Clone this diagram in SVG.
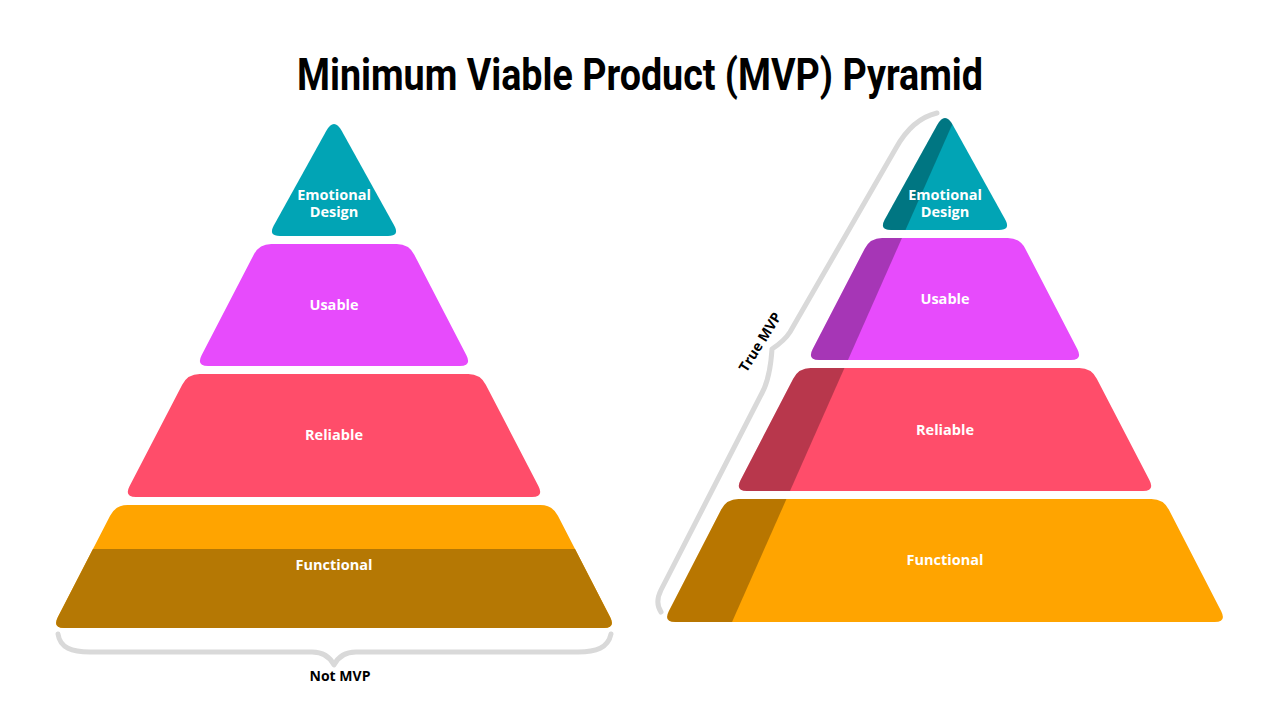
<svg xmlns="http://www.w3.org/2000/svg" width="1280" height="720" viewBox="0 0 1280 720">
<style>
.lbl{font-family:"Open Sans","Liberation Sans",sans-serif;font-weight:700;font-size:14.5px;fill:#fff;text-anchor:middle}
.cap{font-family:"Open Sans","Liberation Sans",sans-serif;font-weight:700;font-size:14px;fill:#000;text-anchor:middle}
.brace{fill:none;stroke:#D9D9D9;stroke-width:5;stroke-linecap:round;stroke-linejoin:round}
.dark{fill:#000;fill-opacity:0.28}
</style>
<defs>
<path id="tri" d="M326.2,131 Q334,117 341.8,131 L394.2,225.5 Q400,236 388,236 L280,236 Q268,236 273.8,225.5 Z"/>
<path id="use" d="M271.2,244 L396.8,244 Q408.8,244 414.3,254.7 L466.4,355.3 Q471.9,366 459.9,366 L208.1,366 Q196.1,366 201.6,355.3 L253.7,254.7 Q259.2,244 271.2,244 Z"/>
<path id="rel" d="M199.7,374 L468.3,374 Q480.3,374 485.8,384.7 L538.5,486.3 Q544,497 532,497 L136,497 Q124,497 129.5,486.3 L182.2,384.7 Q187.7,374 199.7,374 Z"/>
<path id="fun" d="M127.6,505 L540.4,505 Q552.4,505 557.9,515.7 L610.2,617.3 Q615.7,628 603.7,628 L64.3,628 Q52.3,628 57.8,617.3 L110.1,515.7 Q115.6,505 127.6,505 Z"/>
<clipPath id="funClip"><use href="#fun"/></clipPath>
<clipPath id="rightDark"><polygon points="0,100 354.7,100 111.3,650 0,650"/></clipPath>
</defs>
<rect width="1280" height="720" fill="#fff"/>
<text x="640" y="90" font-family="Roboto,'Liberation Sans',sans-serif" font-weight="700" font-size="45" text-anchor="middle" textLength="686" lengthAdjust="spacingAndGlyphs" fill="#000">Minimum Viable Product (MVP) Pyramid</text>

<g id="left-pyramid">
<g id="left-emotional"><use href="#tri" fill="#01A4B5"/><text class="lbl" x="334" y="200">Emotional</text><text class="lbl" x="334" y="217">Design</text></g>
<g id="left-usable"><use href="#use" fill="#E74BFC"/><text class="lbl" x="334" y="310">Usable</text></g>
<g id="left-reliable"><use href="#rel" fill="#FF4D6A"/><text class="lbl" x="334" y="440">Reliable</text></g>
<g id="left-functional"><use href="#fun" fill="#FFA400"/><rect x="40" y="549" width="600" height="90" fill="#B57804" clip-path="url(#funClip)"/><text class="lbl" x="334" y="570">Functional</text></g>
</g>

<g id="right-pyramid">
<g id="right-emotional"><g transform="translate(611,-6)"><use href="#tri" fill="#01A4B5"/><use href="#tri" class="dark" clip-path="url(#rightDark)"/></g><text class="lbl" x="945" y="200">Emotional</text><text class="lbl" x="945" y="217">Design</text></g>
<g id="right-usable"><g transform="translate(611,-6)"><use href="#use" fill="#E74BFC"/><use href="#use" class="dark" clip-path="url(#rightDark)"/></g><text class="lbl" x="945" y="304">Usable</text></g>
<g id="right-reliable"><g transform="translate(611,-6)"><use href="#rel" fill="#FF4D6A"/><use href="#rel" class="dark" clip-path="url(#rightDark)"/></g><text class="lbl" x="945" y="435">Reliable</text></g>
<g id="right-functional"><g transform="translate(611,-6)"><use href="#fun" fill="#FFA400"/><use href="#fun" class="dark" clip-path="url(#rightDark)"/></g><text class="lbl" x="945" y="565">Functional</text></g>
</g>

<g id="connectors">
<path class="brace" d="M58,634 C60,648 72,652 90,652 L312,652 C322,652 330,657 334,665 C338,657 346,652 356,652 L578,652 C596,652 608,648 611,634"/>
<path class="brace" d="M661,612 C657,606 657,598 661,590 L762,393 C769,380 771,365 772,349 C778,345 785,340 790,332 L896,148 C906,130 920,117 937,113"/>
</g>
<g id="labels">
<text class="cap" x="340" y="681">Not MVP</text>
<text class="cap" x="0" y="5" transform="translate(760,342) rotate(-58)">True MVP</text>
</g>
</svg>
